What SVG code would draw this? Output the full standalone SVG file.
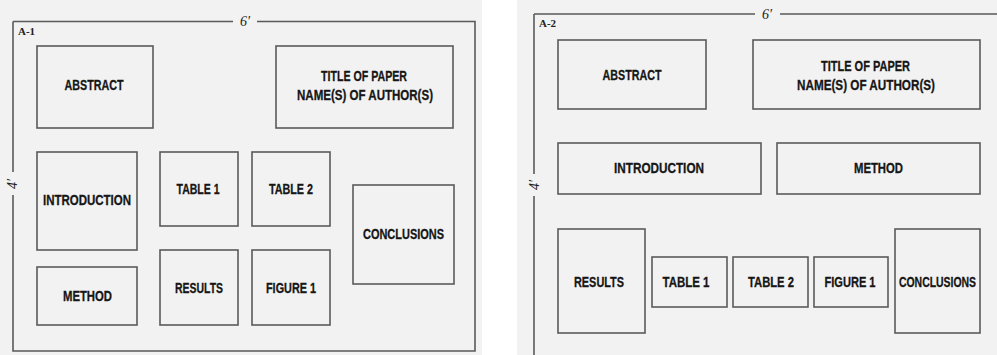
<svg xmlns="http://www.w3.org/2000/svg" width="997" height="355" viewBox="0 0 997 355">
<style>
.bg{fill:#f2f2f2}
.box{fill:none;stroke:#5a5a5a;stroke-width:1.6}
.frame{fill:none;stroke:#5a5a5a;stroke-width:1.6}
.lbl{font-family:"Liberation Sans",Arial,sans-serif;font-weight:bold;font-size:15px;fill:#161616;stroke:#161616;stroke-width:0.3;text-anchor:middle}
.dim{font-family:"Liberation Serif","Times New Roman",serif;font-style:italic;font-size:14px;fill:#222;text-anchor:middle}
.tag{font-family:"Liberation Serif","Times New Roman",serif;font-weight:bold;font-size:11px;fill:#222}
</style>
<rect x="0" y="0" width="997" height="355" fill="#ffffff"/>
<rect class="bg" x="0" y="0" width="482" height="355"/>
<rect class="bg" x="517" y="0" width="480" height="355"/>

<g id="frames">
  <path class="frame" d="M13 21.5H233M257 21.5H475V351H13V195M13 172V21.5"/>
  <text class="dim" x="245" y="26">6′</text>
  <text class="dim" transform="translate(17 184) rotate(-90)">4′</text>
  <text class="tag" x="18" y="35">A-1</text>
  <path class="frame" d="M534 14H755M780 14H997M534 14V174M534 196V355"/>
  <text class="dim" x="767" y="19">6′</text>
  <text class="dim" transform="translate(539 185) rotate(-90)">4′</text>
  <text class="tag" x="539" y="27">A-2</text>
</g>

<!-- Layout A-1 -->
<g id="a1-abstract"><rect class="box" x="37" y="46" width="116" height="82"/><text class="lbl" x="94" y="90" textLength="59" lengthAdjust="spacingAndGlyphs">ABSTRACT</text></g>
<g id="a1-title"><rect class="box" x="276" y="46" width="177" height="82"/><text class="lbl" x="364" y="81" textLength="86" lengthAdjust="spacingAndGlyphs">TITLE OF PAPER</text><text class="lbl" x="365" y="100" textLength="136" lengthAdjust="spacingAndGlyphs">NAME(S) OF AUTHOR(S)</text></g>
<g id="a1-introduction"><rect class="box" x="37" y="152" width="100" height="98"/><text class="lbl" x="87" y="205" textLength="88" lengthAdjust="spacingAndGlyphs">INTRODUCTION</text></g>
<g id="a1-table1"><rect class="box" x="160" y="152" width="78" height="74"/><text class="lbl" x="198" y="194" textLength="43" lengthAdjust="spacingAndGlyphs">TABLE 1</text></g>
<g id="a1-table2"><rect class="box" x="252" y="152" width="78" height="74"/><text class="lbl" x="291" y="194" textLength="44" lengthAdjust="spacingAndGlyphs">TABLE 2</text></g>
<g id="a1-conclusions"><rect class="box" x="353" y="185" width="101" height="99"/><text class="lbl" x="403.5" y="239" textLength="81" lengthAdjust="spacingAndGlyphs">CONCLUSIONS</text></g>
<g id="a1-method"><rect class="box" x="37" y="267" width="100" height="58"/><text class="lbl" x="87.5" y="301" textLength="49" lengthAdjust="spacingAndGlyphs">METHOD</text></g>
<g id="a1-results"><rect class="box" x="160" y="250" width="78" height="75"/><text class="lbl" x="199" y="293" textLength="48" lengthAdjust="spacingAndGlyphs">RESULTS</text></g>
<g id="a1-figure1"><rect class="box" x="252" y="250" width="78" height="75"/><text class="lbl" x="291" y="293" textLength="50" lengthAdjust="spacingAndGlyphs">FIGURE 1</text></g>

<!-- Layout A-2 -->
<g id="a2-abstract"><rect class="box" x="558" y="40" width="148" height="69"/><text class="lbl" x="632" y="80" textLength="59" lengthAdjust="spacingAndGlyphs">ABSTRACT</text></g>
<g id="a2-title"><rect class="box" x="753" y="40" width="227" height="69"/><text class="lbl" x="865.5" y="71" textLength="89" lengthAdjust="spacingAndGlyphs">TITLE OF PAPER</text><text class="lbl" x="866" y="90" textLength="138" lengthAdjust="spacingAndGlyphs">NAME(S) OF AUTHOR(S)</text></g>
<g id="a2-introduction"><rect class="box" x="558" y="143" width="203" height="51"/><text class="lbl" x="659" y="173" textLength="90" lengthAdjust="spacingAndGlyphs">INTRODUCTION</text></g>
<g id="a2-method"><rect class="box" x="777" y="143" width="203" height="51"/><text class="lbl" x="878.5" y="173" textLength="49" lengthAdjust="spacingAndGlyphs">METHOD</text></g>
<g id="a2-results"><rect class="box" x="558" y="229" width="87" height="104"/><text class="lbl" x="599" y="287" textLength="50" lengthAdjust="spacingAndGlyphs">RESULTS</text></g>
<g id="a2-table1"><rect class="box" x="652" y="257" width="75" height="50"/><text class="lbl" x="686" y="287" textLength="47" lengthAdjust="spacingAndGlyphs">TABLE 1</text></g>
<g id="a2-table2"><rect class="box" x="733" y="257" width="75" height="50"/><text class="lbl" x="771" y="287" textLength="46" lengthAdjust="spacingAndGlyphs">TABLE 2</text></g>
<g id="a2-figure1"><rect class="box" x="814" y="257" width="74" height="50"/><text class="lbl" x="850" y="287" textLength="51" lengthAdjust="spacingAndGlyphs">FIGURE 1</text></g>
<g id="a2-conclusions"><rect class="box" x="895" y="229" width="85" height="104"/><text class="lbl" x="0" y="0" style="font-size:11px;stroke-width:0.22" transform="translate(937.5 287) scale(0.95 1.36)">CONCLUSIONS</text></g>
</svg>
